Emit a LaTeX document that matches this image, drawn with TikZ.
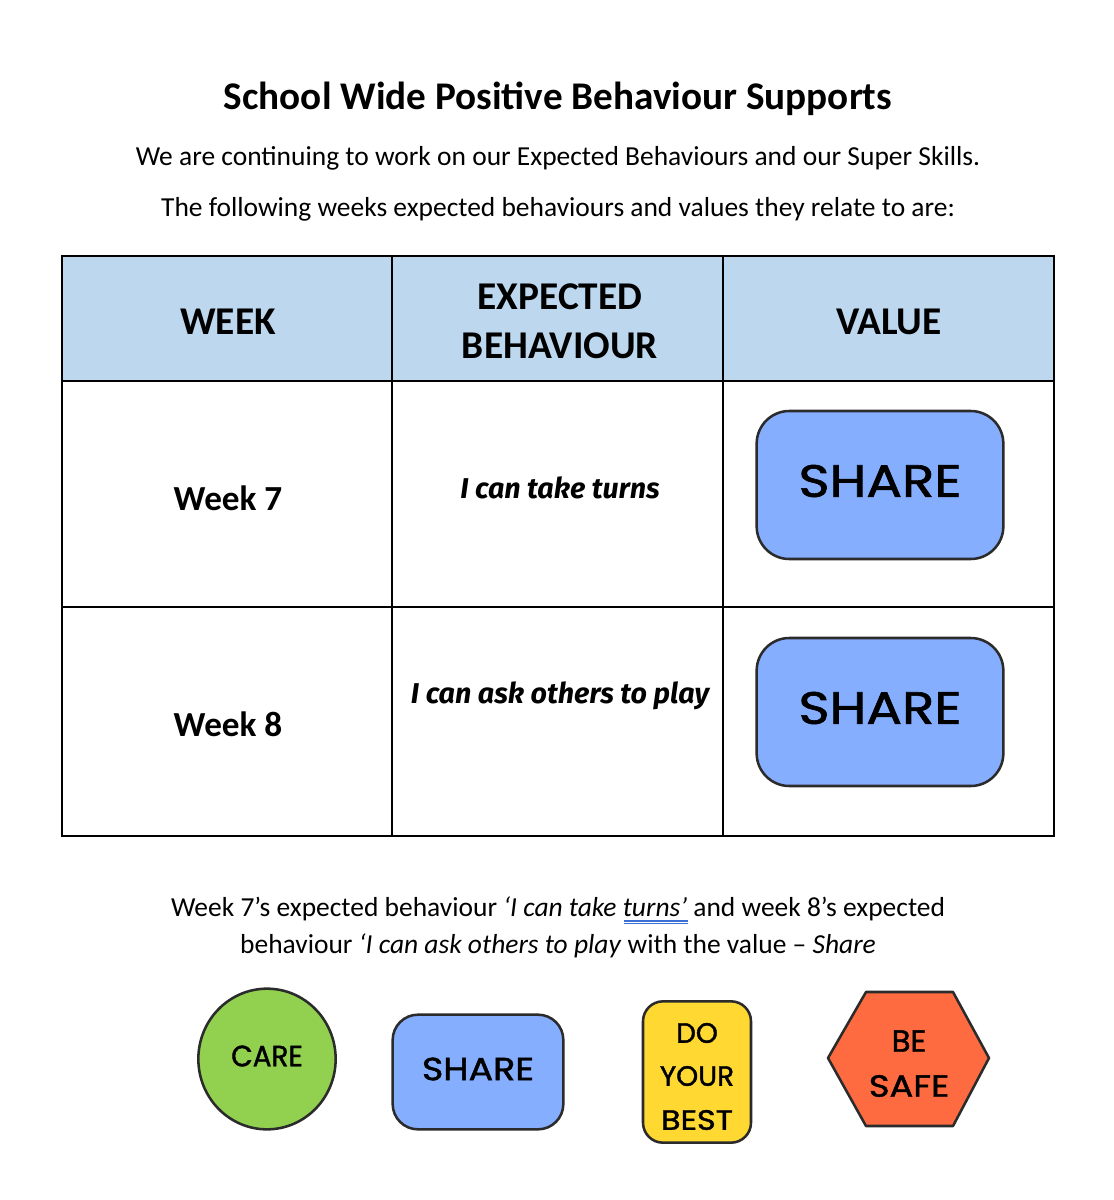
\documentclass[tikz,border=0pt]{standalone}
\usepackage{fontspec}
\usepackage{graphicx}
\setmainfont{Carlito}
\newfontfamily\comicf[FakeBold=1.4]{Poppins}
\newfontfamily\behf{Fira Sans}
\usetikzlibrary{shapes.geometric}
\definecolor{headblue}{HTML}{BDD7EE}
\definecolor{shareblue}{HTML}{85AEFF}
\definecolor{caregreen}{HTML}{92D050}
\definecolor{bestyellow}{HTML}{FFD932}
\definecolor{safered}{HTML}{FF6B40}
\definecolor{edgegrey}{HTML}{2B2B2B}
\definecolor{squiggle}{HTML}{3B6FD6}
\newcommand{\fs}[1]{\fontsize{#1}{#1}\selectfont}
\newcommand{\wide}[2]{\scalebox{#1}[1]{#2}}
\tikzset{
  txt/.style={inner sep=0pt,outer sep=0pt,align=center,text=black},
  body/.style={txt,font=\fs{20.6}},
  headcell/.style={txt,font=\fs{29.5}\bfseries},
  weekcell/.style={txt,font=\fs{26.4}\bfseries},
  behcell/.style={txt,font=\behf\fs{21.5}\bfseries\itshape},
  badge/.style={draw=edgegrey,line width=1.9pt},
  bigshare/.style={badge,fill=shareblue,rounded corners=24.5pt,minimum width=185pt,minimum height=111pt,inner sep=0pt},
  gridline/.style={draw=black,line width=1pt},
}
\begin{document}
\begin{tikzpicture}[x=0.75pt,y=-0.75pt]
\useasboundingbox (0,0) rectangle (1114,1200);
\fill[white] (0,0) rectangle (1114,1200);

\node[txt,font=\fs{29.4}\bfseries] (title) at (558,99) {School Wide Positive Behaviour Supports};
\node[body] (l1) at (558,158) {We are continuing to work on our Expected Behaviours and our Super Skills.};
\node[body] (l2) at (558,209) {The following weeks expected behaviours and values they relate to are:};

% table
\fill[headblue] (62,256) rectangle (1054,381);
\draw[gridline] (62,256) rectangle (1054,836);
\draw[gridline] (62,381) -- (1054,381);
\draw[gridline] (62,607) -- (1054,607);
\draw[gridline] (392,256) -- (392,836);
\draw[gridline] (723,256) -- (723,836);

\node[headcell] (hweek) at (228,322) {WEEK};
\node[headcell] (hbeh1) at (560,297) {EXPECTED};
\node[headcell] (hbeh2) at (560,346) {BEHAVIOUR};
\node[headcell] (hval) at (889,322) {VALUE};

\node[weekcell] (w7) at (228,498) {Week 7};
\node[weekcell] (w8) at (228,724) {Week 8};
\node[behcell] (b7) at (560,488) {I can take turns};
\node[behcell] (b8) at (560,696) {I can ask others to play};

\node[bigshare] (s7) at (880,485) {};
\node[txt,font=\comicf\fs{34}] (s7t) at (880,481) {\wide{1.17}{SHARE}};
\node[bigshare] (s8) at (880,712) {};
\node[txt,font=\comicf\fs{34}] (s8t) at (880,708) {\wide{1.17}{SHARE}};

% closing lines
\node[body] (c1) at (558,909) {Week 7’s expected behaviour \textit{‘I can take turns’} and week 8’s expected};
\node[body] (c2) at (558,946) {behaviour \textit{‘I can ask others to play} with the value – \textit{Share}};
\draw[squiggle,line width=0.8pt] (624,921) -- (688,921);
\draw[squiggle,line width=0.8pt] (624,923.5) -- (688,923.5);

% badges
\node[badge,fill=caregreen,ellipse,minimum width=103pt,minimum height=105.5pt,inner sep=0pt] (care) at (267,1059) {};
\node[txt,font=\comicf\fs{22}] (caret) at (267,1056) {\wide{0.95}{CARE}};
\node[badge,fill=shareblue,rounded corners=19pt,minimum width=128pt,minimum height=86pt,inner sep=0pt] (share) at (478,1072) {};
\node[txt,font=\comicf\fs{24}] (sharet) at (478,1069) {\wide{1.14}{SHARE}};
\node[badge,fill=bestyellow,rounded corners=15pt,minimum width=81pt,minimum height=106pt,inner sep=0pt] (best) at (697,1072) {};
\node[txt,font=\comicf\fs{21}] (bt1) at (697,1033) {DO};
\node[txt,font=\comicf\fs{21}] (bt2) at (697,1076) {YOUR};
\node[txt,font=\comicf\fs{21}] (bt3) at (697,1120) {\wide{1.14}{BEST}};
\draw[badge,fill=safered,line join=round] (828,1058) -- (866,992) -- (953,992) -- (989,1058) -- (953,1126) -- (866,1126) -- cycle;
\node[txt,font=\comicf\fs{23}] (sf1) at (909,1041) {BE};
\node[txt,font=\comicf\fs{23}] (sf2) at (909,1086) {\wide{1.15}{SAFE}};
\end{tikzpicture}
\end{document}
